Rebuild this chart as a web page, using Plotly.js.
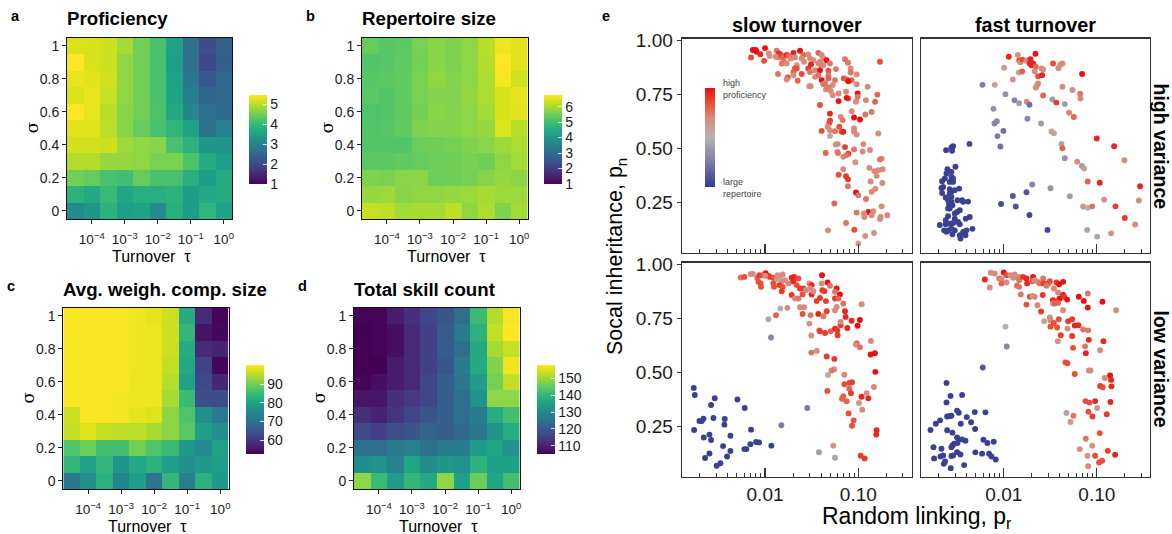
<!DOCTYPE html>
<html>
<head>
<meta charset="utf-8">
<script src="https://cdn.plot.ly/plotly-3.0.1.min.js"></script>
<style>html,body{margin:0;padding:0;background:#fff}</style>
</head>
<body>
<div id="chart" style="width:1172px;height:534px"></div>
<script>
const turnoverExp = [-4.5,-4,-3.5,-3,-2.5,-2,-1.5,-1,-0.5,0];
const sigmaValues = [0,0.1,0.2,0.3,0.4,0.5,0.6,0.7,0.8,0.9,1];
const turnoverTickVals = [-4,-3,-2,-1,0];
const turnoverTickText = ['10<sup>−4</sup>','10<sup>−3</sup>','10<sup>−2</sup>','10<sup>−1</sup>','10<sup>0</sup>'];
const sigmaTicks = [0,0.2,0.4,0.6,0.8,1];
const sigmaTickText = ['0','0.2','0.4','0.6','0.8','1'];

// rows run from sigma = 0 up to sigma = 1
const proficiency = [
 [3.1,3.35,3.85,3.5,3.55,3.1,3.8,3.45,3.9,3.55],
 [3.85,3.7,4.0,3.6,3.8,3.8,3.85,3.45,3.65,3.75],
 [4.5,4.4,4.15,4.1,4.4,4.15,4.15,3.8,3.45,3.75],
 [4.95,4.95,4.75,4.75,4.7,4.55,4.55,4.2,3.75,3.5],
 [5.15,5.15,5.1,4.8,4.7,4.65,4.15,3.85,3.35,3.3],
 [5.25,5.25,5.0,4.65,4.4,4.15,3.9,3.55,2.7,2.95],
 [5.45,5.3,4.98,4.65,4.5,4.2,3.7,3.05,2.6,2.55],
 [5.2,5.32,5.08,4.7,4.5,4.15,3.55,2.9,2.45,2.5],
 [5.3,5.25,5.15,4.7,4.5,4.15,3.55,2.75,2.2,2.5],
 [5.45,5.18,5.12,4.7,4.5,4.15,3.5,2.65,1.95,2.35],
 [5.2,5.18,5.12,4.85,4.5,4.15,3.55,2.65,2.05,2.4]];
const repertoire = [
 [6.25,6.2,5.95,6.0,6.0,6.2,5.8,6.05,5.65,5.95],
 [5.85,5.9,5.7,5.8,5.8,5.85,5.9,6.0,5.9,5.9],
 [5.65,5.6,5.75,5.75,5.45,5.5,5.55,5.7,5.85,5.75],
 [5.3,5.3,5.35,5.4,5.45,5.5,5.55,5.5,5.8,5.95],
 [5.2,5.2,5.2,5.45,5.5,5.55,5.65,5.75,5.9,6.05],
 [5.2,5.25,5.35,5.63,5.68,5.68,5.78,5.85,6.45,6.15],
 [5.15,5.2,5.35,5.53,5.73,5.68,5.78,5.95,6.4,6.5],
 [5.3,5.2,5.35,5.58,5.68,5.68,5.83,6.05,6.4,6.55],
 [5.25,5.3,5.35,5.58,5.8,5.68,5.78,6.05,6.7,6.35],
 [5.2,5.25,5.35,5.53,5.73,5.63,5.78,6.1,6.75,6.5],
 [5.4,5.25,5.3,5.58,5.73,5.63,5.78,6.15,6.6,6.5]];
const compSize = [
 [71.5,76,83,74,79,71,84,73,83,78],
 [84,80,84,77,81,83,79,76,78,79],
 [87,89.5,86,86,90,87,85,78,75,80],
 [96,98,96,95.5,95.5,94,92,88,79,76],
 [96.5,100,100,99.5,98.5,98,92,87,76,72],
 [100,100,99.8,99.5,99,99,94,85,64,64],
 [100,100,100,99.8,99,99,95,80,63,57.5],
 [100,100,100,99.8,99.3,99,96,81,62,53],
 [100,100,100,99.8,99.3,99,96.5,82,58,57],
 [100,100,100,99.8,99.3,99,96.5,84,55,53.5],
 [100,100,100,99.8,99.3,98.5,96.5,82,58,53]];
const skillCount = [
 [149,141,134,140,137,149,135,146,136,142],
 [131,132,128,136,131,133,132,139,135,135],
 [125,124,127,128,125,127,127,134,136,132],
 [117,115,118,119,122,121,123,126,133,138],
 [112,110,113,116,119,121,124,127,138,142],
 [108,108,112,114,116,121,124,132,149,149],
 [105.5,107,109,111,116,121,126,134,147,153],
 [105,105,109,111,115,119,127,137,148,157],
 [105,105.5,107,111,115,120,124,137,151,153.5],
 [105,105.5,107,111,115,120,127,139,153,158],
 [105.5,105.5,109,112,116,119,124,141,152,157.5]];

// Panel e: log10(p_r), p_n and colour tone (0 = large repertoire, 1 = high proficiency)
const slowHighLogPr = [-2.15,-2.13,-2.10,-2.09,-2.05,-2.01,-2.00,-1.96,-1.95,-1.875,-1.85,-1.886,-1.857,-1.829,-1.81,-1.768,-1.75,-1.696,-1.625,-1.725,-1.679,-1.82,-1.796,-1.768,-1.66,-1.59,-1.536,-1.607,-1.518,-1.582,-1.482,-1.429,-1.393,-1.375,-1.34,-1.304,-1.861,-1.757,-1.768,-1.679,-1.66,-1.696,-1.607,-1.65,-1.696,-1.507,-1.536,-1.518,-1.464,-1.411,-1.393,-1.429,-1.411,-1.375,-1.464,-1.429,-1.393,-1.357,-1.321,-1.321,-1.321,-1.25,-1.24,-1.525,-1.511,-1.375,-1.347,-1.321,-1.296,-1.275,-1.275,-1.211,-1.143,-1.111,-1.082,-1.082,-1.071,-1.154,-1.125,-1.107,-1.018,-1.018,-0.90,-0.768,-1.132,-1.007,-1.007,-1.107,-1.125,-1.211,-1.025,-0.918,-0.796,-0.821,-1.411,-1.304,-1.304,-1.311,-1.189,-1.168,-1.071,-1.046,-0.982,-0.925,-0.857,-1.329,-1.204,-1.179,-1.161,-1.393,-1.304,-1.25,-1.304,-1.046,-1.046,-1.018,-0.786,-1.35,-1.24,-1.221,-1.143,-1.225,-1.218,-1.107,-1.161,-1.125,-1.046,-0.946,-0.954,-0.875,-1.032,-0.75,-0.768,-1.161,-1.211,-1.132,-1.111,-1.111,-0.882,-0.829,-0.786,-0.739,-0.868,-0.804,-0.743,-1.025,-1.0,-0.918,-0.857,-0.818,-1.257,-1.018,-0.75,-0.893,-0.939,-0.936,-0.839,-0.857,-0.761,-0.768,-0.689,-1.132,-1.325,-1.043,-0.832,-0.925,-1.0];
const slowHighPn = [.92,.954,.954,.946,.935,.904,.963,.938,.926,.951,.938,.923,.92,.931,.92,.931,.926,.941,.951,.915,.92,.892,.90,.892,.884,.931,.934,.915,.915,.90,.907,.941,.931,.915,.907,.892,.843,.827,.818,.869,.869,.853,.843,.812,.838,.887,.869,.853,.861,.861,.884,.892,.90,.884,.83,.838,.815,.80,.858,.838,.823,.815,.866,.787,.787,.796,.772,.781,.765,.792,.745,.753,.912,.895,.869,.85,.815,.823,.818,.81,.841,.796,.784,.90,.761,.753,.738,.73,.733,.718,.715,.722,.748,.715,.70,.66,.627,.617,.645,.63,.671,.642,.633,.656,.668,.599,.599,.576,.576,.58,.583,.579,.557,.591,.576,.563,.568,.478,.517,.519,.505,.483,.478,.474,.46,.468,.494,.519,.485,.492,.435,.452,.448,.403,.377,.37,.356,.324,.409,.394,.398,.403,.346,.372,.339,.295,.282,.265,.298,.312,.244,.202,.231,.205,.198,.182,.208,.19,.182,.173,.19,.154,.12,.123,.108,.094,.059];
const slowHighTone = [.85,1,1,1,.95,.85,1,.7,.65,.75,.95,.7,.7,.9,.8,.95,.8,.95,1,.7,.7,.75,.75,.7,.65,.8,.7,.7,.7,.7,.7,.8,.7,.7,1,.75,.75,.85,.7,.85,.85,.8,.85,.8,.7,.95,.9,.75,.7,1,.8,.7,.7,.7,.7,.75,1,.75,.85,.75,.8,.75,.75,.7,.7,.75,.7,.75,.7,.7,.7,.7,.75,.75,.7,.75,.8,.85,.8,1,.7,.7,.7,.85,.7,1,.75,.8,1,1,.7,.7,.8,.8,.85,.95,.9,.85,.7,.75,.7,1,1,.75,.75,.7,.85,.85,.95,.85,.7,.75,.55,.7,.7,.7,.7,.8,.7,.7,.9,.7,.75,.9,.7,.75,.75,.7,.7,.7,.65,.7,.75,.7,.85,.9,.9,.75,.7,.7,.7,.7,.7,.7,.7,1,.75,.75,.7,.7,.8,.75,.7,1,.7,.7,.7,.7,.7,.7,.7,.75,.7,.85,.65,.65,.6];

const fastHighLogPr = [-1.946,-1.849,-1.659,-1.835,-1.821,-1.799,-1.756,-1.738,-1.713,-1.72,-1.703,-1.685,-1.656,-1.667,-1.996,-1.839,-1.803,-1.595,-1.577,-1.631,-1.588,-1.47,-1.369,-1.391,-1.412,-1.158,-1.903,-2.097,-2.229,-1.631,-1.642,-1.656,-1.369,-1.262,-1.179,-1.176,-1.577,-1.982,-1.885,-1.835,-1.753,-1.724,-1.477,-1.434,-1.344,-2.111,-1.298,-1.247,-1.746,-1.599,-2.075,-2.1,-2.004,-2.068,-2.036,-2.369,-1.487,-1.462,-1.38,-1.369,-1.0,-0.814,-0.703,-1.344,-1.211,-1.161,-1.136,-1.097,-0.968,-0.534,-1.695,-1.498,-1.756,-1.903,-1.29,-0.921,-0.548,-2.029,-1.871,-1.724,-1.147,-1.097,-1.05,-0.799,-0.699,-0.588,-1.53,-1.104,-0.996,-0.846];
const fastHighPn = [.923,.931,.937,.906,.898,.91,.904,.907,.912,.892,.884,.892,.877,.856,.872,.85,.855,.869,.864,.833,.838,.892,.892,.887,.87,.843,.818,.793,.793,.799,.79,.781,.784,.769,.752,.73,.744,.75,.722,.708,.715,.701,.725,.711,.704,.682,.664,.644,.636,.614,.625,.614,.58,.556,.508,.52,.577,.569,.52,.5,.545,.509,.444,.454,.438,.418,.406,.346,.34,.324,.332,.315,.296,.279,.278,.262,.258,.242,.23,.191,.23,.224,.231,.231,.177,.147,.122,.122,.091,.106];
const fastHighTone = [.95,.65,1,.85,.7,.85,.65,.7,.95,.95,.95,.95,.8,.7,.6,.6,.8,.7,.65,.85,.95,.85,.7,.7,.7,1,.65,.6,.25,.7,.7,.7,.7,.7,.75,.7,.8,.35,.3,.4,.7,.2,.4,.9,.4,.35,.7,.8,.3,.4,.3,.3,.2,.25,.2,.05,.6,.55,.45,.8,.95,.95,.7,.35,.7,.4,.6,.8,.95,.95,.3,.35,.1,.1,.4,.65,.7,.05,.1,.05,.65,.5,.75,.9,.9,.7,.05,.45,.45,.65];
const fastHighBlueLogPr = [-2.545,-2.563,-2.62,-2.556,-2.52,-2.606,-2.563,-2.616,-2.563,-2.634,-2.545,-2.663,-2.581,-2.545,-2.652,-2.67,-2.48,-2.581,-2.663,-2.563,-2.527,-2.581,-2.624,-2.563,-2.599,-2.563,-2.448,-2.498,-2.384,-2.437,-2.588,-2.552,-2.581,-2.473,-2.502,-2.599,-2.527,-2.599,-2.409,-2.366,-2.624,-2.527,-2.491,-2.688,-2.624,-2.581,-2.545,-2.473,-2.642,-2.599,-2.563,-2.527,-2.437,-2.401,-2.337,-2.552,-2.473,-2.466,-2.412,-2.616];
const fastHighBluePn = [.509,.503,.491,.488,.414,.403,.39,.383,.367,.36,.36,.347,.344,.344,.321,.316,.313,.31,.293,.298,.306,.29,.272,.275,.259,.252,.259,.259,.253,.252,.241,.236,.221,.213,.205,.221,.198,.185,.174,.182,.167,.174,.159,.145,.148,.151,.154,.148,.12,.12,.128,.12,.113,.12,.127,.102,.097,.082,.097,.113];

const slowLowLogPr = [-2.261,-2.221,-2.154,-2.132,-2.082,-2.061,-2.018,-1.993,-1.964,-1.946,-2.046,-2.071,-2.043,-2,-1.911,-1.911,-1.904,-1.864,-1.839,-1.811,-1.875,-1.821,-1.846,-1.811,-1.821,-1.786,-1.75,-1.714,-1.689,-1.696,-1.661,-1.643,-1.714,-1.679,-1.643,-1.597,-1.625,-1.589,-1.561,-1.525,-1.5,-1.518,-1.5,-1.482,-1.446,-1.411,-1.389,-1.393,-1.386,-1.364,-1.329,-1.304,-1.347,-1.232,-1.25,-1.197,-1.25,-1.214,-1.161,-1.836,-1.964,-1.882,-1.936,-1.761,-1.625,-1.582,-1.597,-1.511,-1.429,-1.375,-1.339,-1.232,-1.25,-1.143,-1.136,-0.965,-1.525,-1.504,-1.418,-1.411,-1.357,-1.296,-1.25,-1.225,-1.19,-1.19,-1.222,-1.118,-1.072,-1.008,-0.983,-1.504,-1.446,-1.339,-1.257,-0.865,-1.018,-1.025,-0.983,-0.868,-0.822,-0.818,-1.257,-1.286,-1.325,-1.15,-1.15,-1.097,-1.068,-1.332,-1.097,-1.079,-1.161,-1.175,-1.125,-0.965,-0.893,-0.911,-0.833,-0.993,-0.958,-1.104,-1.05,-1.068,-0.804,-0.808,-1.268,-1.25,-1.422,-1.547,-1.825,-0.975,-0.932];
const slowLowPn = [.938,.941,.954,.955,.937,.949,.949,.958,.946,.941,.911,.918,.895,.946,.937,.911,.895,.949,.946,.952,.931,.921,.903,.895,.875,.926,.911,.937,.941,.921,.903,.934,.857,.841,.841,.86,.887,.887,.88,.911,.903,.887,.86,.875,.829,.844,.949,.911,.88,.875,.915,.9,.829,.887,.872,.86,.841,.841,.818,.795,.745,.764,.661,.798,.801,.801,.77,.764,.77,.759,.782,.802,.787,.782,.756,.815,.725,.67,.694,.69,.682,.69,.702,.694,.718,.733,.671,.705,.738,.715,.742,.591,.599,.573,.562,.645,.633,.628,.616,.582,.588,.502,.514,.508,.488,.489,.445,.451,.454,.414,.424,.403,.389,.378,.366,.387,.38,.404,.432,.358,.327,.31,.278,.253,.232,.212,.161,.105,.131,.335,.255,.114,.102];
const slowLowTone = [.75,.85,.7,.7,.8,.9,.85,1,.9,.9,.85,.85,.85,.7,.85,.85,.85,.7,.65,.7,.65,.65,.9,.85,.9,.7,.7,.95,.95,.95,.85,.85,.9,.7,.75,.85,.9,.9,.7,.7,.95,.7,.95,.7,.9,.9,1,.7,.9,.9,1,.75,.9,1,.75,1,.9,.8,.75,.5,.55,.8,.3,.7,.7,.7,.85,.75,.95,.75,.9,.7,.7,.95,.95,.7,.65,.65,.8,.9,.9,.8,.95,.9,.9,.7,.9,.95,.95,1,1,.75,.7,.9,.9,.7,.85,.7,.75,1,1,1,.65,.75,.55,.7,.85,.85,.9,.85,.8,.9,.8,.8,.8,.95,.95,.7,.7,.65,.7,.85,.85,.85,.95,.95,.65,.45,.4,.25,.25,.9,.9];
const slowLowBlueLogPr = [-2.764,-2.753,-2.539,-2.578,-2.296,-2.218,-2.553,-2.432,-2.436,-2.66,-2.703,-2.678,-2.76,-2.596,-2.578,-2.657,-2.371,-2.15,-1.932,-2.45,-2.371,-2.407,-2.596,-2.643,-2.518,-2.478,-2.221,-2.2,-2.157,-2.096,-2.064];
const slowLowBluePn = [.428,.395,.38,.349,.374,.335,.289,.284,.258,.286,.275,.275,.233,.212,.187,.199,.207,.235,.161,.159,.136,.111,.125,.104,.068,.08,.145,.145,.168,.178,.176];

const fastLowLogPr = [-2.204,-2.151,-2.14,-2.097,-2,-2.05,-2.025,-2.025,-1.971,-1.971,-1.928,-1.882,-1.864,-1.9,-1.835,-1.835,-1.792,-1.756,-1.749,-1.857,-1.835,-1.685,-1.692,-1.667,-1.631,-1.613,-1.577,-1.57,-1.523,-1.505,-1.434,-1.405,-1.362,-1.541,-1.462,-1.416,-1.817,-1.72,-1.692,-1.667,-1.581,-1.756,-1.638,-1.599,-1.473,-1.434,-1.47,-1.452,-1.398,-1.362,-1.351,-1.319,-1.416,-1.362,-1.194,-1.14,-1.097,-1.097,-0.939,-0.792,-1.566,-1.505,-1.498,-1.462,-1.409,-1.498,-1.427,-1.308,-1.265,-1.315,-1.237,-1.197,-1.147,-1.093,-1.387,-1.265,-1.419,-1.086,-0.928,-1.255,-1.126,-1.118,-0.964,-1.982,-1.968,-2.226,-1.337,-1.315,-1.237,-1.086,-1.068,-0.857,-0.846,-0.914,-0.964,-0.936,-0.842,-1.122,-1.079,-1.018,-0.853,-0.996,-1.09,-1.047,-0.893,-1.326,-1.251,-1.283,-0.968,-1.118,-1.05,-1.183,-0.882,-1.1,-1.018,-0.803,-0.943,-0.975,-1.093];
const fastLowPn = [.929,.892,.96,.957,.961,.934,.931,.911,.949,.915,.949,.952,.941,.937,.941,.926,.941,.934,.911,.9,.895,.941,.921,.926,.918,.911,.934,.911,.911,.921,.915,.907,.918,.9,.887,.869,.86,.849,.853,.849,.857,.813,.81,.781,.833,.829,.818,.818,.841,.857,.849,.836,.821,.787,.849,.83,.864,.799,.826,.787,.736,.753,.741,.728,.745,.711,.707,.736,.745,.702,.716,.718,.698,.694,.671,.668,.644,.65,.644,.613,.62,.588,.602,.711,.619,.522,.545,.542,.492,.508,.508,.485,.465,.474,.437,.431,.435,.367,.36,.367,.363,.335,.318,.296,.306,.312,.299,.27,.219,.193,.161,.145,.137,.114,.114,.119,.091,.083,.066];
const fastLowTone = [.95,.7,.7,.7,1,.75,.7,.8,.85,.7,.7,.7,.65,.7,.7,.75,.9,.95,.95,.8,.75,1,.8,.7,.7,.75,.75,.9,.85,.85,.9,1,1,.75,.7,.7,.75,.85,.65,.7,.9,.85,.7,.9,.95,.9,.7,.8,1,1,.9,1,.8,.7,1,1,.75,1,1,.7,.6,.7,.7,.85,.85,.85,.85,.9,.9,.7,.95,.95,.75,.75,.9,.9,.65,.95,.95,.85,.75,.95,.7,.5,.3,.1,.85,.85,.85,.65,.7,1,.95,.7,.9,.85,.95,.85,.85,.95,.95,.65,.85,.9,.9,.45,.75,.65,.85,.75,.65,.7,.9,.65,.85,.95,.85,.85,.7];
const fastLowBlueLogPr = [-2.616,-2.573,-2.448,-2.616,-2.502,-2.484,-2.312,-2.197,-2.563,-2.609,-2.581,-2.398,-2.685,-2.731,-2.351,-2.462,-2.788,-2.609,-2.552,-2.308,-2.502,-2.48,-2.448,-2.412,-2.534,-2.552,-2.219,-2.176,-2.108,-2.756,-2.67,-2.563,-2.498,-2.305,-2.233,-2.158,-2.133,-2.502,-2.466,-2.545,-2.563,-2.749,-2.681,-2.652,-2.631,-2.645,-2.086,-2.426,-2.57];
const fastLowBluePn = [.451,.391,.395,.361,.323,.313,.316,.315,.299,.296,.298,.293,.278,.262,.269,.262,.233,.232,.221,.238,.199,.19,.19,.184,.17,.162,.188,.173,.179,.154,.147,.154,.173,.13,.124,.124,.111,.131,.12,.116,.113,.102,.111,.116,.088,.077,.097,.071,.057];

const blueTone = 0.02;
const toneScale = [[0,'#343C8E'],[0.25,'#7C7CA8'],[0.5,'#B5B1B0'],[0.7,'#DA8A7B'],[0.85,'#E74F38'],[1,'#EC0F12']];

const W = 1172, H = 534;
const px = v => v / W, py = v => 1 - v / H;
const font = 'Liberation Sans, Arial, sans-serif';
const ink = '#1a1a1a';

const data = [], layout = {
  width: W, height: H, margin: {l:0,r:0,t:0,b:0},
  paper_bgcolor: '#fff', plot_bgcolor: '#fff', showlegend: false,
  font: {family: font, color: ink}, annotations: []
};

function note(text, x, y, size, opts) {
  layout.annotations.push(Object.assign({
    text, x: px(x), y: py(y), xref: 'paper', yref: 'paper', showarrow: false,
    xanchor: 'left', yanchor: 'middle', font: {family: font, size, color: '#000'}
  }, opts || {}));
}

function heat(n, z, title, letter, frame, bar, barMid, zmin, zmax, barTicks) {
  const sfx = n === 1 ? '' : String(n);
  const [l, r, t, b] = frame;
  data.push({
    type: 'heatmap', x: turnoverExp, y: sigmaValues, z, xaxis: 'x' + sfx, yaxis: 'y' + sfx,
    colorscale: 'Viridis', zmin, zmax, hoverinfo: 'skip',
    colorbar: {
      x: px(bar), xanchor: 'left', xpad: 0, ypad: 0, y: py(barMid), yanchor: 'middle',
      lenmode: 'pixels', len: 89, thicknessmode: 'pixels', thickness: 18, outlinewidth: 0,
      tickmode: 'array', tickvals: barTicks, ticks: 'inside', ticklen: 4, tickcolor: 'rgba(255,255,255,0.8)',
      tickprefix: '\u00a0\u00a0\u00a0', tickfont: {family: font, size: 14, color: ink}
    }
  });
  layout['xaxis' + sfx] = {
    domain: [px(l), px(r)], range: [-4.75, 0.25], anchor: 'y' + sfx, tickmode: 'array',
    tickvals: turnoverTickVals, ticktext: turnoverTickText, ticks: 'outside', ticklen: 4, tickcolor: '#222',
    showline: true, mirror: true, linecolor: '#111', linewidth: 1, showgrid: false, zeroline: false,
    tickfont: {family: font, size: 13.5, color: ink}, ticklabelstandoff: 4, automargin: false
  };
  layout['yaxis' + sfx] = {
    domain: [py(b), py(t)], range: [-0.05, 1.05], anchor: 'x' + sfx, tickmode: 'array',
    tickvals: sigmaTicks, ticktext: sigmaTickText, ticks: 'outside', ticklen: 4, tickcolor: '#222',
    showline: true, mirror: true, linecolor: '#111', linewidth: 1, showgrid: false, zeroline: false,
    tickfont: {family: font, size: 14, color: ink}, automargin: false
  };
  note('<b>' + title + '</b>', l - 2, t - 18.5, 18.7);
  note('<b>' + letter + '</b>', l - 58, t - 22, 14.5);
  note('Turnover  τ', (l + r) / 2 + 2, b + 37, 16, {xanchor: 'center'});
  note('σ', l - 35, (t + b) / 2 - 1, 17, {xanchor: 'center', textangle: -90, font: {family: 'DejaVu Serif, serif', size: 17, color: '#000'}});
}

heat(1, proficiency, 'Proficiency', 'a', [67,232,37.5,219], 249, 139.5, 1, 5.45, [1,2,3,4,5]);
heat(2, repertoire, 'Repertoire size', 'b', [362,527.5,37.5,219], 544, 139.5, 1, 6.75, [1,2,3,4,5,6]);
heat(3, compSize, 'Avg. weigh. comp. size', 'c', [63.3,228.5,307.5,489], 245.5, 409.5, 52.5, 100.3, [60,70,80,90]);
heat(4, skillCount, 'Total skill count', 'd', [354,519.5,307.5,489], 536.5, 409.5, 105, 158, [110,120,130,140,150]);

function scatter(n, logs, pn, tones, blueLogs, bluePn, frame, opts) {
  const [l, r, t, b] = frame;
  const blue = blueLogs || [], bp = bluePn || [];
  const marker = {
    size: 5.9, color: tones.concat(blue.map(() => blueTone)), cmin: 0, cmax: 1,
    colorscale: toneScale, opacity: 1, line: {width: 0}
  };
  if (opts.bar) marker.colorbar = {
    x: px(705), xanchor: 'left', xpad: 0, ypad: 0, y: py(137.5), yanchor: 'middle',
    lenmode: 'pixels', len: 99, thicknessmode: 'pixels', thickness: 10,
    outlinewidth: 0, ticks: '', showticklabels: false
  };
  marker.showscale = !!opts.bar;
  data.push({
    type: 'scatter', mode: 'markers', xaxis: 'x' + n, yaxis: 'y' + n, hoverinfo: 'skip', cliponaxis: false,
    x: logs.concat(blue).map(v => Math.pow(10, v)), y: pn.concat(bp), marker
  });
  layout['xaxis' + n] = {
    type: 'log', domain: [px(l), px(r)], range: [-2.89, -0.428], anchor: 'y' + n,
    dtick: 1, tickformat: '.2f', ticks: 'inside', ticklen: 9, tickwidth: 1.2, tickcolor: '#333',
    minor: {dtick: 'D1', ticks: 'inside', ticklen: 3.5, tickwidth: 1, tickcolor: '#333', showgrid: false},
    showticklabels: !!opts.xLabels, tickfont: {family: font, size: 19, color: ink},
    showline: true, mirror: true, linecolor: '#333', linewidth: 1.4, showgrid: false, zeroline: false, automargin: false
  };
  layout['yaxis' + n] = {
    domain: [py(b), py(t)], range: [0.0175, 1.0075], anchor: 'x' + n,
    tickmode: 'array', tickvals: [0.25,0.5,0.75,1], ticktext: ['0.25','0.50','0.75','1.00'],
    ticks: opts.yLabels ? 'outside' : '', ticklen: 4, tickcolor: '#333',
    showticklabels: !!opts.yLabels, tickfont: {family: font, size: 19, color: ink},
    showline: true, mirror: true, linecolor: '#333', linewidth: 1.4, showgrid: false, zeroline: false, automargin: false
  };
}

scatter(5, slowHighLogPr, slowHighPn, slowHighTone, null, null, [682,911.7,38.5,252.5], {yLabels: true, bar: true});
scatter(6, fastHighLogPr, fastHighPn, fastHighTone, fastHighBlueLogPr, fastHighBluePn, [921,1150,38.5,252.5], {});
scatter(7, slowLowLogPr, slowLowPn, slowLowTone, slowLowBlueLogPr, slowLowBluePn, [682,911.7,262.5,476.7], {yLabels: true, xLabels: true});
scatter(8, fastLowLogPr, fastLowPn, fastLowTone, fastLowBlueLogPr, fastLowBluePn, [921,1150,262.5,476.7], {xLabels: true});

note('<b>e</b>', 600, 16, 14.5);
note('<b>slow turnover</b>', 797, 25.5, 19.8, {xanchor: 'center'});
note('<b>fast turnover</b>', 1035.5, 25.5, 19.8, {xanchor: 'center'});
note('<b>high variance</b>', 1160.5, 146, 19.5, {xanchor: 'center', textangle: 90});
note('<b>low variance</b>', 1160.5, 369, 19.5, {xanchor: 'center', textangle: 90});
note('Socal inheritance, p<sub>n</sub>', 616, 257, 21.5, {xanchor: 'center', textangle: -90});
note('Random linking, p<sub>r</sub>', 917, 517, 23, {xanchor: 'center'});
note('high<br>proficiency', 721, 88.5, 9, {font: {family: font, size: 9, color: '#444'}, align: 'left'});
note('large<br>repertoire', 721, 188, 9, {font: {family: font, size: 9, color: '#444'}, align: 'left'});

Plotly.newPlot('chart', data, layout, {displayModeBar: false, staticPlot: true});
</script>
</body>
</html>
